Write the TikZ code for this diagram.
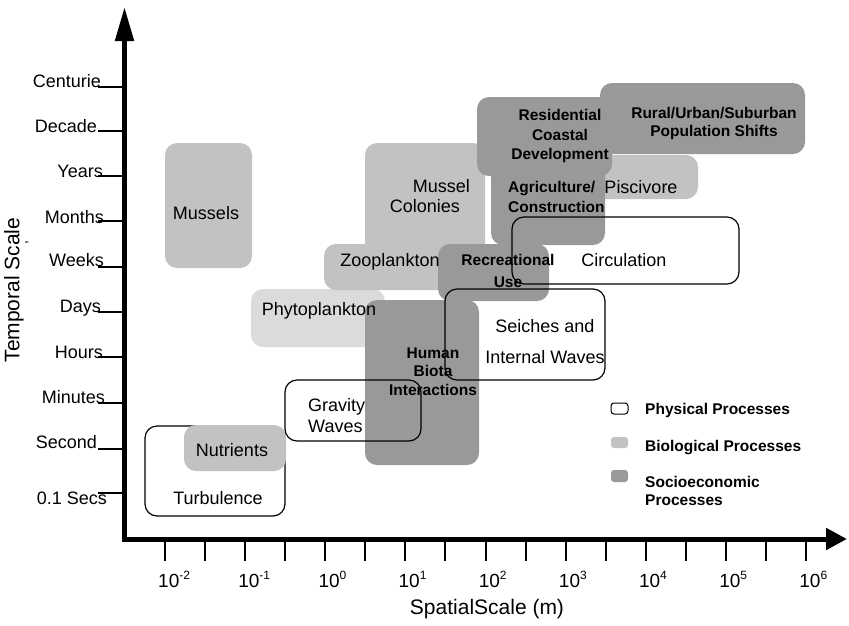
\documentclass[tikz,border=0pt]{standalone}
\usepackage{fontspec}
\setmainfont{Liberation Sans}
\usetikzlibrary{arrows.meta}
\definecolor{bioc}{gray}{0.76}
\definecolor{phytoc}{gray}{0.86}
\definecolor{socioc}{gray}{0.60}
\begin{document}
\begin{tikzpicture}[x=1pt,y=-1pt,
  lab/.style={font=\fontsize{18}{21}\selectfont, inner sep=0pt},
  blab/.style={font=\fontsize{15.5}{19}\selectfont\bfseries, inner sep=0pt},
  axlab/.style={font=\fontsize{18}{21}\selectfont, inner sep=0pt},
  axtitle/.style={font=\fontsize{21}{24}\selectfont, inner sep=0pt},
  biobox/.style={fill=bioc, rounded corners=12pt},
  phytobox/.style={fill=phytoc, rounded corners=12pt},
  sociobox/.style={fill=socioc, rounded corners=12pt},
  physbox/.style={draw=black, line width=1.2pt, rounded corners=12pt},
  axisline/.style={line width=5pt, line join=miter},
  tickline/.style={line width=2pt}]
\useasboundingbox[fill=white] (0,0) rectangle (849,625);

% ---------- axes ----------
\coordinate (ytip) at (124.5,7);
\coordinate (origin) at (124.5,539);
\coordinate (xtip) at (847,539);
\draw[axisline, {Triangle[length=34pt,width=18pt]}-{Triangle[length=21pt,width=21pt]}]
  (ytip) |- (xtip);

% time ticks and labels: tick y / right edge / baseline / text
\foreach \ty/\tx/\tb/\tt [count=\i] in {87/101/87.5/Centurie, 131/97/132.5/Decade,
    176/103/177.5/Years, 221/104/223.5/Months, 267/104/266.5/Weeks,
    312/101/312.5/Days, 357/103/358.5/Hours, 403/105/403.5/Minutes,
    449/97/448.5/Second, 493/107/504.5/0.1 Secs}{
  \draw[tickline] (98,\ty) -- (124.5,\ty);
  \node[axlab, anchor=base east] (tlab\i) at (\tx,\tb) {\tt};
}

% space ticks (decades with a midpoint tick) and labels
\foreach \k in {0,...,8}{
  \pgfmathsetmacro{\px}{165+80.15*\k}
  \pgfmathtruncatemacro{\ex}{\k-2}
  \draw[tickline] (\px,539) -- (\px,561);
  \node[axlab, anchor=base west, font=\fontsize{19}{21}\selectfont] (slab\k) at (\px-7,587)
    {10\raisebox{8pt}{\fontsize{12}{12}\selectfont\ex}};
}
\foreach \k in {0,...,7}{
  \pgfmathsetmacro{\px}{205+80.15*\k}
  \draw[tickline] (\px,539) -- (\px,561);
}

\node[axtitle, anchor=base] (xtitle) at (487,614) {SpatialScale (m)};
\node[axtitle, rotate=90] (ytitle) at (14,290) {Temporal Scale};
\node[font=\fontsize{14}{14}\selectfont, rotate=90, inner sep=0pt] (ycomma) at (27,243) {,};

% ---------- process regions ----------
% physical process behind the nutrients box
\path[physbox] (145,426) rectangle (285,516);

% biological processes
\path[biobox] (165,143) rectangle (252,268);
\path[phytobox] (251,289) rectangle (385,347);
\path[biobox] (365,143) rectangle (485,262);
\path[biobox] (324,244) rectangle (470,290);
\path[biobox] (590,155) rectangle (698,199);
\path[biobox] (184,425) rectangle (286,471);

% socioeconomic processes
\path[sociobox] (438,244) rectangle (549,301);
\path[sociobox] (365,300) rectangle (479,465);
\path[sociobox] (491,150) rectangle (605,245);
\path[sociobox] (477,97) rectangle (612,176);
\path[sociobox] (600,83) rectangle (805,154);

% physical processes (outlines)
\path[physbox] (512,217) rectangle (739,284);
\path[physbox] (445,289) rectangle (605,380);
\path[physbox] (285,380) rectangle (421,441);

% ---------- labels ----------
\node[lab, anchor=base] (mussels) at (206,219.5) {Mussels};
\node[lab, anchor=base] (phyto) at (319,315.5) {Phytoplankton};
\node[lab, anchor=base] (zoo) at (390,266.5) {Zooplankton};
\node[lab, anchor=north east, align=right, font=\fontsize{18}{20}\selectfont]
  (colonies) at (470,179.5) {Mussel\\Colonies\hspace*{10pt}};
\node[lab, anchor=base] (pisc) at (641,193.5) {Piscivore};
\node[lab, anchor=base] (nutr) at (232,456.5) {Nutrients};
\node[lab, anchor=base] (turb) at (218,504.5) {Turbulence};
\node[lab, anchor=base] (circ) at (624,266.5) {Circulation};
\node[lab, anchor=north, align=center] (seiches) at (545,319.5)
  {Seiches and\\[10pt]Internal Waves};
\node[lab, anchor=north west, align=left] (gravity) at (308,398.5) {Gravity\\Waves};

\node[blab, anchor=north, align=center, font=\fontsize{15.5}{19.5}\selectfont\bfseries]
  (resid) at (560,109.5) {Residential\\Coastal\\Development};
\node[blab, anchor=north, align=center, font=\fontsize{15.5}{18}\selectfont\bfseries]
  (rural) at (714,107.5) {Rural/Urban/Suburban\\Population Shifts};
\node[blab, anchor=north west, align=left, font=\fontsize{15.5}{20}\selectfont\bfseries]
  (agri) at (508,181.5) {Agriculture/\\Construction};
\node[blab, anchor=north, align=center, font=\fontsize{15.5}{22}\selectfont\bfseries]
  (recr) at (508,254.5) {Recreational\\Use};
\node[blab, anchor=north, align=center, font=\fontsize{15.5}{18.5}\selectfont\bfseries]
  (human) at (433,347.5) {Human\\Biota\\Interactions};

% ---------- legend ----------
\path[physbox, line width=1pt, rounded corners=3pt] (611,403) rectangle (628,414);
\path[biobox, rounded corners=3pt] (611,437) rectangle (628,448);
\path[sociobox, rounded corners=3pt] (611,470) rectangle (628,482);
\node[blab, anchor=base west] (legphys) at (645,414.5) {Physical Processes};
\node[blab, anchor=base west] (legbio) at (645,451.5) {Biological Processes};
\node[blab, anchor=north west, align=left, font=\fontsize{15.5}{18}\selectfont\bfseries]
  (legsoc) at (645,476.5) {Socioeconomic\\Processes};
\end{tikzpicture}
\end{document}
